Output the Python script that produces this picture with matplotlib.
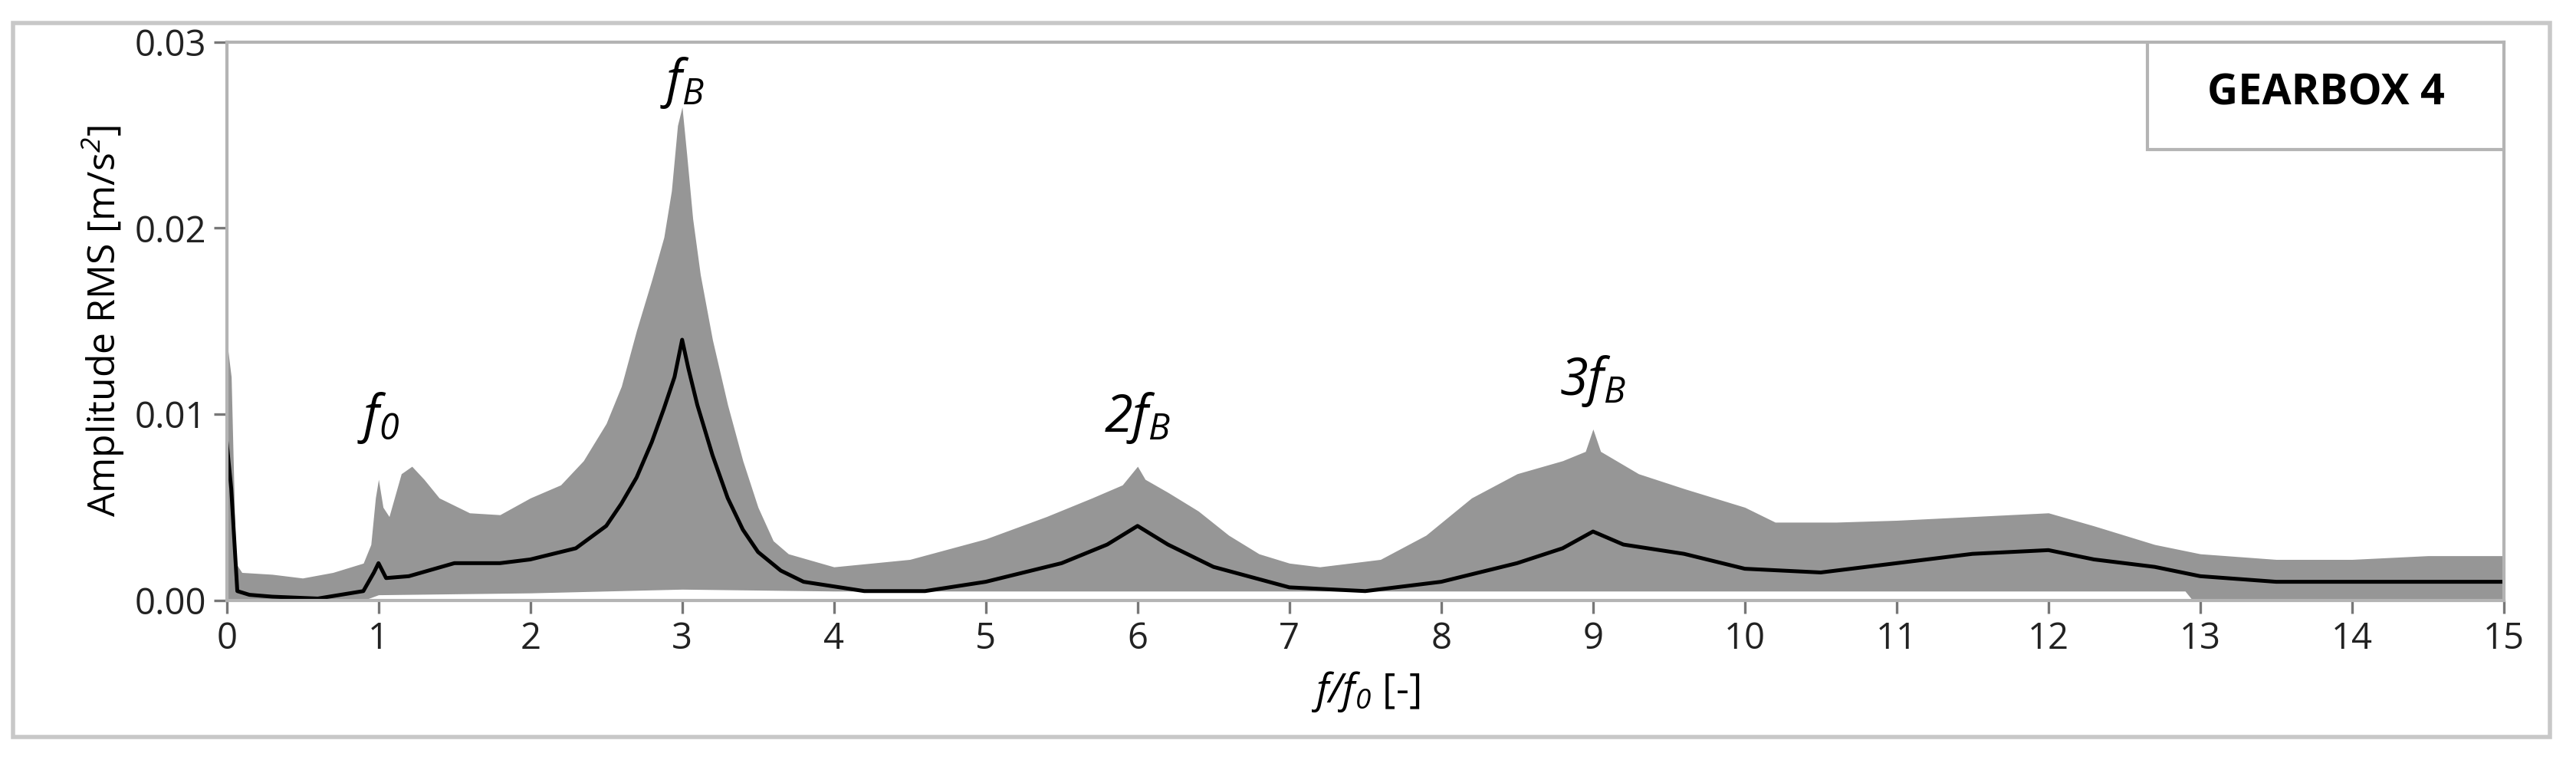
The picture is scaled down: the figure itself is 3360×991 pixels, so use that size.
import numpy as np
import matplotlib.pyplot as plt
from matplotlib.patches import Rectangle

plt.rcParams['font.family'] = ['Open Sans', 'DejaVu Sans']
plt.rcParams['mathtext.fontset'] = 'custom'
plt.rcParams['mathtext.it'] = 'Open Sans:italic'
plt.rcParams['mathtext.rm'] = 'Open Sans:italic'

# Obere Hüllkurve (grau)
upper_x = [0, 0.03, 0.06, 0.1, 0.3, 0.5, 0.7, 0.9, 0.95, 0.98, 1.0, 1.03, 1.07, 1.15, 1.22, 1.3,
           1.4, 1.6, 1.8, 2.0, 2.2, 2.35, 2.5, 2.6, 2.7, 2.8, 2.88, 2.93, 2.97, 3.0, 3.03, 3.07,
           3.12, 3.2, 3.3, 3.4, 3.5, 3.6, 3.7, 4.0, 4.5, 5.0, 5.4, 5.7, 5.9, 6.0, 6.05, 6.2,
           6.4, 6.6, 6.8, 7.0, 7.2, 7.6, 7.9, 8.2, 8.5, 8.8, 8.95, 9.0, 9.05, 9.3, 9.6, 10.0,
           10.2, 10.6, 11.0, 11.5, 12.0, 12.3, 12.7, 13.0, 13.5, 14.0, 14.5, 15.0]
upper_y = [0.014, 0.012, 0.002, 0.0015, 0.0014, 0.0012, 0.0015, 0.002, 0.003, 0.0055, 0.0065,
           0.005, 0.0045, 0.0068, 0.0072, 0.0065, 0.0055, 0.0047, 0.0046, 0.0055, 0.0062,
           0.0075, 0.0095, 0.0115, 0.0145, 0.0172, 0.0195, 0.022, 0.0255, 0.0265, 0.024,
           0.0205, 0.0175, 0.014, 0.0105, 0.0075, 0.005, 0.0032, 0.0025, 0.0018, 0.0022,
           0.0033, 0.0045, 0.0055, 0.0062, 0.0072, 0.0065, 0.0058, 0.0048, 0.0035, 0.0025,
           0.002, 0.0018, 0.0022, 0.0035, 0.0055, 0.0068, 0.0075, 0.008, 0.0092, 0.008,
           0.0068, 0.006, 0.005, 0.0042, 0.0042, 0.0043, 0.0045, 0.0047, 0.004, 0.003,
           0.0025, 0.0022, 0.0022, 0.0024, 0.0024]

# Untere Hüllkurve
lower_x = [0, 0.9, 1.0, 2.0, 3.0, 4.0, 6.0, 9.0, 12.0, 12.9, 12.95, 15.0]
lower_y = [0, 0, 0.0003, 0.0004, 0.0006, 0.0005, 0.0005, 0.0005, 0.0005, 0.0005, 0.0, 0.0]

# Mittelwert (schwarze Linie)
mean_x = [0, 0.03, 0.07, 0.15, 0.3, 0.6, 0.9, 0.97, 1.0, 1.05, 1.2, 1.5, 1.8, 2.0, 2.3, 2.5,
          2.6, 2.7, 2.8, 2.88, 2.95, 3.0, 3.04, 3.1, 3.2, 3.3, 3.4, 3.5, 3.65, 3.8, 4.2, 4.6,
          5.0, 5.5, 5.8, 6.0, 6.2, 6.5, 7.0, 7.5, 8.0, 8.5, 8.8, 9.0, 9.2, 9.6, 10.0, 10.5,
          11.0, 11.5, 12.0, 12.3, 12.7, 13.0, 13.5, 14.0, 15.0]
mean_y = [0.0085, 0.006, 0.0005, 0.0003, 0.0002, 0.0001, 0.0005, 0.0015, 0.002, 0.0012, 0.0013,
          0.002, 0.002, 0.0022, 0.0028, 0.004, 0.0052, 0.0066, 0.0085, 0.0103, 0.012, 0.014,
          0.0125, 0.0105, 0.0078, 0.0055, 0.0038, 0.0026, 0.0016, 0.001, 0.0005, 0.0005,
          0.001, 0.002, 0.003, 0.004, 0.003, 0.0018, 0.0007, 0.0005, 0.001, 0.002, 0.0028,
          0.0037, 0.003, 0.0025, 0.0017, 0.0015, 0.002, 0.0025, 0.0027, 0.0022, 0.0018,
          0.0013, 0.001, 0.001, 0.001]

labels = [(1.0, 0.0083, "$f_0$"), (3.0, 0.0263, "$f_B$"),
          (6.0, 0.0083, "$2f_B$"), (9.0, 0.0103, "$3f_B$")]

fig = plt.figure(figsize=(16.8, 4.955), dpi=200)
fig.patches.append(Rectangle((0.005, 0.03), 0.985, 0.94, transform=fig.transFigure,
                             fill=False, edgecolor="#c8c8c8", linewidth=2))
ax = fig.add_axes([0.088, 0.21, 0.884, 0.735])

xs = np.union1d(np.union1d(upper_x, lower_x), np.linspace(0, 15, 1501))
ax.fill_between(xs, np.interp(xs, lower_x, lower_y), np.interp(xs, upper_x, upper_y),
                color="#969696", linewidth=0)
ax.plot(mean_x, mean_y, color="black", linewidth=1.8)

for x, y, t in labels:
    ax.text(x, y, t, ha="center", va="bottom", fontsize=24, clip_on=False, zorder=7)

ax.add_patch(Rectangle((12.65, 0.0242), 15 - 12.65, 0.0058, facecolor="white",
                       edgecolor="#b4b4b4", linewidth=1.5, zorder=5))
ax.text(13.83, 0.0272, "GEARBOX 4", ha="center", va="center", fontsize=20,
        fontweight="bold", zorder=6)

ax.set_xlim(0, 15)
ax.set_ylim(0, 0.03)
ax.set_xticks(range(0, 16))
ax.set_yticks([0, 0.01, 0.02, 0.03])
ax.set_yticklabels(["0.00", "0.01", "0.02", "0.03"])
for s in ax.spines.values():
    s.set_color("#b4b4b4")
    s.set_linewidth(1.5)
ax.tick_params(labelsize=17, length=6, width=1.2, color="#777777", labelcolor="#222222",
               direction="out")
ax.set_xlabel("$f/f_0$ [-]", fontsize=19, labelpad=6)
ax.set_ylabel("Amplitude RMS [m/s$^2$]", fontsize=18)

fig.savefig("out.png", dpi=200, facecolor="white")
